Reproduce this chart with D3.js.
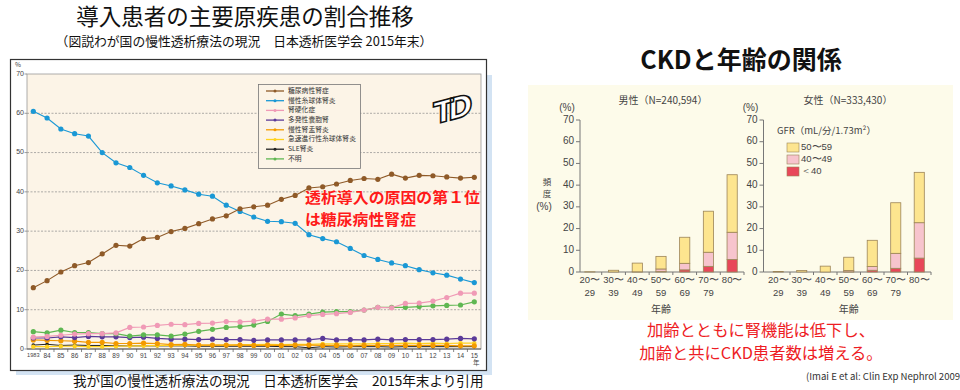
<!DOCTYPE html>
<html><head><meta charset="utf-8">
<script src="https://cdn.jsdelivr.net/npm/d3@7"></script>
<style>
html,body{margin:0;padding:0;background:#fff;}
svg{display:block;font-family:"Noto Sans CJK JP","Noto Sans",sans-serif;}
</style></head>
<body><svg id="c" width="960" height="390"></svg>
<script>
// ---------- data: left chart (JSDT 1983-2015) ----------
const years = [1983,1984,1985,1986,1987,1988,1989,1990,1991,1992,1993,1994,1995,1996,1997,1998,1999,2000,2001,2002,2003,2004,2005,2006,2007,2008,2009,2010,2011,2012,2013,2014,2015];
const yearLabels = ["1983","84","85","86","87","88","89","90","91","92","93","94","95","96","97","98","99","00","01","02","03","04","05","06","07","08","09","10","11","12","13","14","15"];
const yTicksLeft = [0,10,20,30,40,50,60,70];
const diabetic = [15.6,17.4,19.6,21.2,22.0,24.2,26.4,26.2,28.1,28.4,29.9,30.7,31.9,33.1,33.9,35.7,36.2,36.6,38.1,39.1,41.0,41.3,42.0,42.9,43.4,43.2,44.5,43.5,44.2,44.1,43.8,43.5,43.7];
const glomerulo = [60.5,58.8,56.0,54.8,54.2,50.0,47.4,46.2,44.2,42.3,41.5,40.5,39.4,38.9,36.6,35.0,33.6,32.5,32.4,32.0,29.1,28.1,27.3,25.6,23.8,22.8,21.9,21.2,20.2,19.4,18.8,17.8,16.9];
const nephrosclerosis = [3.0,3.2,3.5,3.8,3.9,3.9,4.1,5.5,5.6,6.0,6.3,6.2,6.5,6.6,7.0,6.9,7.1,7.6,7.6,7.9,8.5,8.8,9.0,9.3,9.9,10.6,10.5,11.6,11.7,12.2,13.1,14.2,14.2];
const polycystic = [2.8,2.8,3.1,2.9,3.2,3.1,3.1,2.9,3.0,2.7,2.5,2.5,2.4,2.5,2.4,2.4,2.2,2.3,2.3,2.3,2.3,2.7,2.3,2.4,2.3,2.5,2.3,2.4,2.4,2.4,2.5,2.7,2.6];
const pyelo = [2.3,2.2,2.1,2.0,1.7,1.7,1.4,1.4,1.5,1.4,1.1,1.2,1.0,1.0,1.0,1.0,0.9,1.0,0.9,1.0,1.0,0.9,0.9,0.8,0.9,0.9,0.9,0.9,0.9,0.9,0.9,0.8,0.8];
const rpgn = [0.6,0.6,0.7,0.7,0.6,0.6,0.7,0.8,0.8,0.9,0.9,1.0,1.0,1.0,1.0,1.1,1.1,1.2,1.1,1.2,1.2,1.3,1.3,1.3,1.3,1.4,1.4,1.5,1.4,1.5,1.4,1.5,1.5];
const sle = [1.0,1.2,0.9,1.0,0.9,0.9,0.8,0.8,0.8,0.8,0.8,0.8,0.7,0.7,0.7,0.7,0.7,0.7,0.6,0.6,0.3,0.6,0.5,0.6,0.6,0.6,0.5,0.6,0.6,0.6,0.6,0.6,0.6];
const unknown = [4.4,4.1,4.8,4.2,4.2,3.9,3.9,3.3,3.6,3.6,3.3,3.8,4.5,5.0,5.5,5.7,6.1,7.0,8.9,8.5,8.9,9.4,9.5,9.5,9.9,10.6,10.6,10.6,10.8,11.0,11.1,11.2,12.0];
const seriesNames = ["糖尿病性腎症","慢性糸球体腎炎","腎硬化症","多発性嚢胞腎","慢性腎盂腎炎","急速進行性糸球体腎炎","SLE腎炎","不明"];

// ---------- data: right charts (CKD by age) ----------
const ageGroups = ["20〜|29","30〜|39","40〜|49","50〜|59","60〜|69","70〜|79","80〜|"];
const yTicksRight = [0,10,20,30,40,50,60,70];
const gfrLabels = ["50〜59","40〜49","＜40"];
const maleLt40   = [0,0,0,0.2,1.0,2.6,5.8];
const male40_49  = [0,0,0.1,1.2,3.0,6.5,12.5];
const male50_59  = [0.1,0.8,4.0,5.8,12.0,18.9,26.5];
const femaleLt40   = [0,0,0,0.1,0.8,1.7,6.4];
const female40_49  = [0,0,0,0.6,1.7,6.9,16.3];
const female50_59  = [0.2,0.7,2.7,6.1,12.1,23.3,23.2];

// ================= drawing =================
const svg = d3.select("#c");
svg.append("rect").attr("width",960).attr("height",390).attr("fill","#fff");

// ---- left panel titles ----
svg.append("text").attr("x",245).attr("y",19).attr("text-anchor","middle").attr("dominant-baseline","middle")
  .attr("font-size",22.5).attr("fill","#111").text("導入患者の主要原疾患の割合推移");
svg.append("text").attr("x",244).attr("y",43).attr("text-anchor","middle").attr("dominant-baseline","middle")
  .attr("font-size",12.8).attr("fill","#111").attr("xml:space","preserve")
  .text("（図説わが国の慢性透析療法の現況　日本透析医学会 2015年末）");

// frame with light-blue shadow
svg.append("rect").attr("x",486).attr("y",75).attr("width",6).attr("height",300).attr("fill","#d3e3f3");
svg.append("rect").attr("x",16).attr("y",370).attr("width",476).attr("height",5).attr("fill","#d3e3f3");
svg.append("rect").attr("x",10.5).attr("y",59.5).attr("width",476).attr("height",311).attr("fill","#fff").attr("stroke","#333").attr("stroke-width",1.2);

const xL = d3.scaleLinear().domain([1983,2015]).range([33.3,474.3]);
const yL = d3.scaleLinear().domain([0,70]).range([349,74]);
const plotL = 27, plotR = 481;

svg.append("rect").attr("x",plotL).attr("y",yL(70)).attr("width",plotR-plotL).attr("height",yL(0)-yL(70))
  .attr("fill","#fcf4e7").attr("stroke","#9a9a9a").attr("stroke-width",0.8);

// gridlines
svg.append("g").selectAll("line").data(yTicksLeft.filter(d=>d>0 && d<70)).join("line")
  .attr("x1",plotL).attr("x2",plotR).attr("y1",d=>yL(d)).attr("y2",d=>yL(d))
  .attr("stroke","#8a8a8a").attr("stroke-width",0.7).attr("stroke-dasharray","2,1.5");

// y axis labels
svg.append("g").selectAll("text").data(yTicksLeft).join("text")
  .attr("x",24).attr("y",d=>yL(d)).attr("text-anchor","end").attr("dominant-baseline","middle")
  .attr("font-size",7).attr("fill","#444").attr("font-family","Liberation Sans, sans-serif").text(d=>d);
svg.append("g").selectAll("line").data(yTicksLeft).join("line")
  .attr("x1",24.5).attr("x2",plotL).attr("y1",d=>yL(d)).attr("y2",d=>yL(d)).attr("stroke","#777").attr("stroke-width",0.7);
svg.append("text").attr("x",18).attr("y",67).attr("font-size",6.5).attr("fill","#444").attr("text-anchor","middle").text("%");

// x axis
svg.append("line").attr("x1",plotL).attr("x2",plotR).attr("y1",yL(0)).attr("y2",yL(0)).attr("stroke","#555").attr("stroke-width",1);
const mids = years.slice(0,-1).map((y,i)=>(y+years[i+1])/2);
svg.append("g").selectAll("line").data(mids).join("line")
  .attr("x1",d=>xL(d)).attr("x2",d=>xL(d)).attr("y1",yL(0)).attr("y2",yL(0)+3).attr("stroke","#555").attr("stroke-width",0.7);
svg.append("g").selectAll("text").data(years).join("text")
  .attr("x",d=>xL(d)).attr("y",356).attr("text-anchor","middle").attr("dominant-baseline","middle")
  .attr("font-size",(d,i)=>i===0?5.6:6.5).attr("fill","#444").attr("font-family","Liberation Sans, sans-serif")
  .text((d,i)=>yearLabels[i]);
svg.append("text").attr("x",xL(2015)+2).attr("y",363).attr("text-anchor","middle").attr("dominant-baseline","middle")
  .attr("font-size",6.5).attr("fill","#444").text("年");

// series
const series = [
  {name:seriesNames[6], vals:sle, color:"#222222", r:1.8, w:1},
  {name:seriesNames[5], vals:rpgn, color:"#ffd21f", r:2.2, w:1.2},
  {name:seriesNames[4], vals:pyelo, color:"#f39a00", r:2.6, w:1.2},
  {name:seriesNames[3], vals:polycystic, color:"#5b3a98", r:2.6, w:1.2},
  {name:seriesNames[7], vals:unknown, color:"#5fb752", r:2.6, w:1.2},
  {name:seriesNames[2], vals:nephrosclerosis, color:"#f09ab6", r:2.6, w:1.2},
  {name:seriesNames[1], vals:glomerulo, color:"#1a98d5", r:2.6, w:1.1},
  {name:seriesNames[0], vals:diabetic, color:"#8f5a28", r:2.6, w:1.1},
];
const line = d3.line().x((d,i)=>xL(years[i])).y(d=>yL(d));
series.forEach(s=>{
  const g = svg.append("g");
  g.append("path").attr("d",line(s.vals)).attr("fill","none").attr("stroke",s.color).attr("stroke-width",s.w);
  g.selectAll("circle").data(s.vals).join("circle")
    .attr("cx",(d,i)=>xL(years[i])).attr("cy",d=>yL(d)).attr("r",s.r).attr("fill",s.color);
});

// legend
const legColors = {"糖尿病性腎症":"#8f5a28","慢性糸球体腎炎":"#1a98d5","腎硬化症":"#f09ab6","多発性嚢胞腎":"#5b3a98","慢性腎盂腎炎":"#f39a00","急速進行性糸球体腎炎":"#ffd21f","SLE腎炎":"#222222","不明":"#5fb752"};
const lg = svg.append("g");
lg.append("rect").attr("x",258.5).attr("y",84.5).attr("width",102).attr("height",84).attr("fill","#fcf4e7").attr("stroke","#777").attr("stroke-width",0.8);
seriesNames.forEach((n,i)=>{
  const y = 91 + i*9.7;
  lg.append("line").attr("x1",266).attr("x2",284).attr("y1",y).attr("y2",y).attr("stroke",legColors[n]).attr("stroke-width",1.3);
  lg.append("circle").attr("cx",275).attr("cy",y).attr("r",1.5).attr("fill",legColors[n]);
  lg.append("text").attr("x",288).attr("y",y).attr("dominant-baseline","middle").attr("font-size",6.8).attr("fill","#333").text(n);
});

// TD logo
const logo = svg.append("g").attr("transform","translate(450,112) skewY(-15)");
logo.append("text").attr("x",0).attr("y",0).attr("text-anchor","middle").attr("dominant-baseline","middle")
  .attr("font-size",30).attr("font-weight","bold").attr("font-family","DejaVu Sans, sans-serif")
  .attr("fill","#fff").attr("stroke","#111").attr("stroke-width",1.6).attr("letter-spacing",-6).text("TD");

// red annotation
svg.append("text").attr("x",305).attr("y",199).attr("dominant-baseline","middle").attr("font-size",15).attr("font-weight","bold")
  .attr("textLength",175).attr("lengthAdjust","spacingAndGlyphs")
  .attr("fill","#ff1a1a").text("透析導入の原因の第１位");
svg.append("text").attr("x",305).attr("y",221).attr("dominant-baseline","middle").attr("font-size",15).attr("font-weight","bold")
  .attr("textLength",111).attr("lengthAdjust","spacingAndGlyphs")
  .attr("fill","#ff1a1a").text("は糖尿病性腎症");

// caption
svg.append("text").attr("x",73).attr("y",382).attr("dominant-baseline","middle").attr("font-size",13.6).attr("fill","#111")
  .attr("xml:space","preserve").text("我が国の慢性透析療法の現況　日本透析医学会　2015年末より引用");

// ================= right panel =================
svg.append("text").attr("x",741).attr("y",62).attr("text-anchor","middle").attr("dominant-baseline","middle")
  .attr("font-size",25).attr("font-weight",600).attr("fill","#111").text("CKDと年齢の関係");
svg.append("rect").attr("x",528).attr("y",85).attr("width",425).attr("height",235).attr("fill","#fdfbea");

const yR = d3.scaleLinear().domain([0,70]).range([272,120]);
const colors = ["#e8475a","#f7c4cd","#fde58f"];

function drawChart(axisX, rangeX, title, titleX, lt40, mid, hi) {
  const g = svg.append("g");
  const x = d3.scaleBand().domain(ageGroups).range(rangeX).paddingInner(0.57).paddingOuter(0.285);
  // axes
  g.append("line").attr("x1",axisX).attr("x2",axisX).attr("y1",yR(70)).attr("y2",yR(0)).attr("stroke","#777").attr("stroke-width",1);
  g.append("line").attr("x1",axisX).attr("x2",rangeX[1]).attr("y1",yR(0)).attr("y2",yR(0)).attr("stroke","#777").attr("stroke-width",1);
  g.selectAll(".yt").data(yTicksRight).join("line").attr("x1",axisX-4).attr("x2",axisX).attr("y1",d=>yR(d)).attr("y2",d=>yR(d)).attr("stroke","#777");
  g.selectAll(".yl").data(yTicksRight).join("text").attr("x",axisX-6).attr("y",d=>yR(d)).attr("text-anchor","end").attr("dominant-baseline","middle")
    .attr("font-size",10).attr("fill","#444").attr("font-family","Liberation Sans, sans-serif").text(d=>d);
  const bounds = ageGroups.slice(1).map(a=>x(a)-x.step()*x.paddingInner()/2);
  bounds.push(rangeX[1]);
  g.selectAll(".xt").data(bounds).join("line").attr("x1",d=>d).attr("x2",d=>d).attr("y1",yR(0)).attr("y2",yR(0)+3).attr("stroke","#777");
  // bars (stack)
  const data = ageGroups.map((a,i)=>({a, v:[lt40[i],mid[i],hi[i]]}));
  data.forEach(d=>{
    let base = 0;
    d.v.forEach((v,k)=>{
      if (v<=0) return;
      g.append("rect").attr("x",x(d.a)).attr("width",x.bandwidth()).attr("y",yR(base+v)).attr("height",yR(base)-yR(base+v))
        .attr("fill",colors[k]).attr("stroke","#9c8458").attr("stroke-width",0.8);
      base += v;
    });
  });
  // category labels
  ageGroups.forEach(a=>{
    const [l1,l2] = a.split("|");
    const cx = x(a)+x.bandwidth()/2;
    g.append("text").attr("x",cx).attr("y",280.5).attr("text-anchor","middle").attr("dominant-baseline","middle").attr("font-size",9.5)
      .attr("font-family","Liberation Sans, sans-serif").attr("fill","#444").text(l1);
    if (l2) g.append("text").attr("x",cx).attr("y",293).attr("text-anchor","middle").attr("dominant-baseline","middle").attr("font-size",9.5)
      .attr("font-family","Liberation Sans, sans-serif").attr("fill","#444").text(l2);
  });
  g.append("text").attr("x",(rangeX[0]+rangeX[1])/2).attr("y",310).attr("text-anchor","middle").attr("dominant-baseline","middle").attr("font-size",10).attr("fill","#444").text("年齢");
  g.append("text").attr("x",titleX).attr("y",101).attr("text-anchor","middle").attr("dominant-baseline","middle").attr("font-size",10).attr("fill","#444").text(title);
  g.append("text").attr("x",axisX-13).attr("y",108).attr("text-anchor","middle").attr("dominant-baseline","middle").attr("font-size",10)
    .attr("font-family","Liberation Sans, sans-serif").attr("fill","#444").text("(%)");
  return g;
}
drawChart(580, [578,744], "男性（N=240,594）", 663, maleLt40, male40_49, male50_59);
drawChart(763.5, [766.5,931], "女性（N=333,430）", 848, femaleLt40, female40_49, female50_59);

// y-axis title (male)
[["頻",183],["度",194.5]].forEach(([t,y])=>svg.append("text").attr("x",547).attr("y",y).attr("text-anchor","middle").attr("dominant-baseline","middle").attr("font-size",8.5).attr("fill","#444").text(t));
svg.append("text").attr("x",544).attr("y",207.5).attr("text-anchor","middle").attr("dominant-baseline","middle").attr("font-size",10)
  .attr("font-family","Liberation Sans, sans-serif").attr("fill","#444").text("(%)");

// GFR legend
svg.append("text").attr("x",777).attr("y",131).attr("dominant-baseline","middle").attr("font-size",9.5).attr("fill","#444").text("GFR（mL/分/1.73m²）");
gfrLabels.forEach((t,i)=>{
  const y = 147.5 + i*12;
  svg.append("rect").attr("x",787).attr("y",y-4.5).attr("width",12).attr("height",9).attr("fill",colors[2-i]).attr("stroke","#9c8458").attr("stroke-width",0.6);
  svg.append("text").attr("x",801).attr("y",y).attr("dominant-baseline","middle").attr("font-size",9.5)
    .attr("font-family","Liberation Sans, sans-serif").attr("fill","#444").text(t);
});

// red message
svg.append("text").attr("x",761).attr("y",332).attr("text-anchor","middle").attr("dominant-baseline","middle").attr("font-size",16.3).attr("fill","#ee1c24").text("加齢とともに腎機能は低下し、");
svg.append("text").attr("x",761).attr("y",355).attr("text-anchor","middle").attr("dominant-baseline","middle").attr("font-size",16.3).attr("fill","#ee1c24").text("加齢と共にCKD患者数は増える。");
svg.append("text").attr("x",806).attr("y",377).attr("dominant-baseline","middle").attr("font-size",9.6).attr("fill","#333").text("(Imai E et al: Clin Exp Nephrol 2009");
</script></body></html>
